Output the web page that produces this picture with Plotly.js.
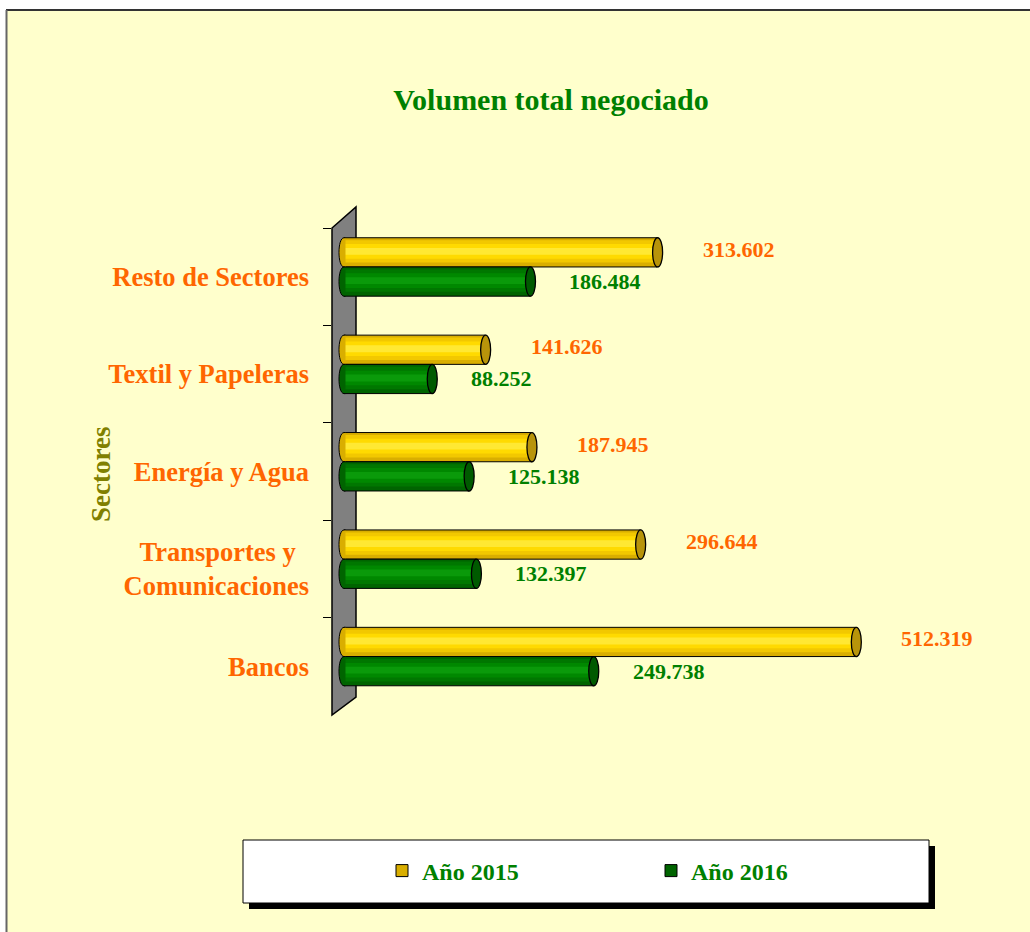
<!DOCTYPE html>
<html>
<head>
<meta charset="utf-8">
<script src="https://cdn.plot.ly/plotly-3.0.1.min.js"></script>
<style>html,body{margin:0;padding:0;background:#fff;}#chart{width:1030px;height:932px;}</style>
</head>
<body>
<div id="chart"></div>
<script>
// ---- data (top to bottom as in the picture) ----
const sectors = ['Resto de Sectores', 'Textil y Papeleras', 'Energía y Agua', 'Transportes y\u00a0\u00a0<br>Comunicaciones', 'Bancos'];
const seriesNames = ['Año 2015', 'Año 2016'];
const values2015 = [313.602, 141.626, 187.945, 296.644, 512.319];
const values2016 = [186.484, 88.252, 125.138, 132.397, 249.738];
const labels2015 = ['313.602', '141.626', '187.945', '296.644', '512.319'];
const labels2016 = ['186.484', '88.252', '125.138', '132.397', '249.738'];

// ---- layout geometry helpers (pixels -> paper) ----
const W = 1030, H = 932;
const PL = 332, PR = 1000, PT = 228, PB = 715;
const px = x => (x - PL) / (PR - PL);
const py = y => (PB - y) / (PB - PT);

const SERIF = 'Liberation Serif, Times New Roman, serif';
const ORANGE = '#FF6600', GREEN = '#008000';

// style of each cylinder: shading bands from outside to inside
const styles = [
  {name: seriesNames[0], vals: values2015, labels: labels2015, center: -0.25,
   bands: ['#D9AE00', '#F2C800', '#FFDA00', '#FFE833'], cap: '#B8940A', text: ORANGE, shift: 3, xshift: 43},
  {name: seriesNames[1], vals: values2016, labels: labels2016, center: 0.05,
   bands: ['#006400', '#007700', '#008800', '#0A9A0A'], cap: '#005A00', text: GREEN, shift: 0, xshift: 37}
];
const H_BAR = 0.30;
const bandWidths = [0.30, 0.23, 0.15, 0.07];

const traces = [];
const shapes = [];
const annotations = [];

styles.forEach((s, si) => {
  bandWidths.forEach((w, bi) => {
    traces.push({
      type: 'bar', orientation: 'h',
      x: s.vals, y: sectors,
      width: w, offset: s.center - w / 2 - (bi > 0 ? 0.01 : 0),
      name: s.name,
      showlegend: bi === 0,
      legendrank: si + 1,
      marker: {color: s.bands[bi], line: {color: bi === 0 ? '#000' : 'rgba(0,0,0,0)', width: bi === 0 ? 1 : 0}},
      hoverinfo: 'skip'
    });
  });
  s.vals.forEach((v, i) => {
    const yt = i + s.center - H_BAR / 2, yb = i + s.center + H_BAR / 2;
    // right end cap
    shapes.push({type: 'circle', xref: 'x', yref: 'y', x0: v - 5, x1: v + 5, y0: yt, y1: yb,
      fillcolor: s.cap, line: {color: '#000', width: 1.3}, layer: 'above'});
    // rounded left end
    shapes.push({type: 'path', xref: 'x', yref: 'y', layer: 'above',
      path: `M 1.5,${yt} L 0,${yt} C -6.7,${yt} -6.7,${yb} 0,${yb} L 1.5,${yb}`,
      fillcolor: s.bands[0], line: {color: '#000', width: 1}});
    annotations.push({xref: 'x', yref: 'y', x: v, y: i + s.center, xanchor: 'left', yanchor: 'middle',
      xshift: s.xshift, yshift: s.shift, text: s.labels[i], showarrow: false,
      font: {family: SERIF, size: 22, color: s.text, weight: 'bold'}});
  });
});

// axis title
annotations.push({xref: 'paper', yref: 'paper', x: px(101), y: py(475), textangle: -90,
  text: 'Sectores', showarrow: false, xanchor: 'center', yanchor: 'middle',
  font: {family: SERIF, size: 27, color: '#808000', weight: 'bold'}});

// decorative frame, wall and legend box
shapes.unshift(
  {type: 'rect', xref: 'paper', yref: 'paper', x0: px(0), x1: px(W), y0: py(0), y1: py(10), fillcolor: '#fff', line: {width: 0}, layer: 'below'},
  {type: 'rect', xref: 'paper', yref: 'paper', x0: px(0), x1: px(6), y0: py(0), y1: py(H), fillcolor: '#fff', line: {width: 0}, layer: 'below'},
  {type: 'line', xref: 'paper', yref: 'paper', x0: px(6), x1: px(W), y0: py(10), y1: py(10), line: {color: '#333', width: 2}, layer: 'below'},
  {type: 'line', xref: 'paper', yref: 'paper', x0: px(6.5), x1: px(6.5), y0: py(10), y1: py(H), line: {color: '#666', width: 2}, layer: 'below'},
  {type: 'path', xref: 'paper', yref: 'paper', layer: 'below',
   path: `M ${px(332)},${py(228)} L ${px(356)},${py(207)} L ${px(356)},${py(697)} L ${px(332)},${py(715)} Z`,
   fillcolor: '#808080', line: {color: '#000', width: 1.5}},
  {type: 'rect', xref: 'paper', yref: 'paper', x0: px(249), x1: px(935), y0: py(846), y1: py(909), fillcolor: '#000', line: {width: 0}, layer: 'above'},
  {type: 'rect', xref: 'paper', yref: 'paper', x0: px(243), x1: px(929), y0: py(840), y1: py(903), fillcolor: '#fff', line: {color: '#000', width: 1}, layer: 'above'}
);

const layout = {
  width: W, height: H,
  margin: {l: PL, r: W - PR, t: PT, b: H - PB, pad: 0},
  paper_bgcolor: '#FFFFCC', plot_bgcolor: 'rgba(0,0,0,0)',
  barmode: 'overlay',
  title: {text: 'Volumen total negociado', xref: 'container', yref: 'container', x: 551 / W, y: 1 - 99 / H,
    xanchor: 'center', yanchor: 'middle', font: {family: SERIF, size: 30, color: GREEN, weight: 'bold'}},
  xaxis: {range: [-12, (PR - PL) - 12], visible: false, fixedrange: true},
  yaxis: {type: 'category', range: [sectors.length - 0.5, -0.5], tickson: 'boundaries',
    ticks: 'outside', ticklen: 8, tickcolor: '#000', tickwidth: 1, showgrid: false, zeroline: false,
    showline: false, ticklabelstandoff: 22,
    tickfont: {family: SERIF, size: 26.5, color: ORANGE, weight: 'bold'}, fixedrange: true},
  showlegend: true,
  legend: {orientation: 'h', x: px(382), xanchor: 'left', y: py(871), yanchor: 'middle',
    bgcolor: 'rgba(0,0,0,0)', borderwidth: 0, entrywidth: 224, entrywidthmode: 'pixels', itemwidth: 30,
    font: {family: SERIF, size: 24, color: GREEN, weight: 'bold'}, traceorder: 'normal'},
  shapes: shapes,
  annotations: annotations
};

Plotly.newPlot('chart', traces, layout, {displayModeBar: false, staticPlot: true});
</script>
</body>
</html>
